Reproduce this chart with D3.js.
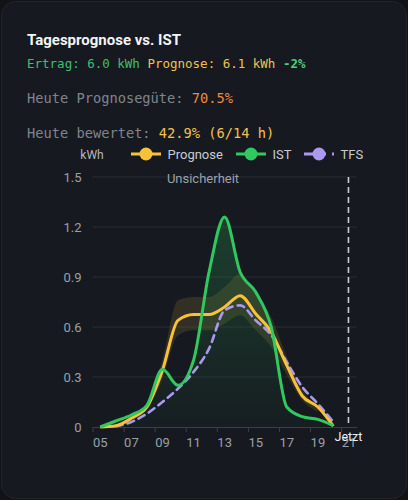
<!DOCTYPE html>
<html>
<head>
<meta charset="utf-8">
<script src="https://cdn.jsdelivr.net/npm/d3@7"></script>
<style>
  html, body { margin: 0; padding: 0; background: #111317; }
  svg { display: block; }
</style>
</head>
<body>
<div id="chart"></div>
<script>
// ---------- data ----------
const hours      = [5.5, 6.5, 7.5, 8.5, 9.5, 10.5, 11.5, 12.5, 13.5, 14.5, 15.5, 16.5, 17.5, 18.5, 19.5, 20.5];
const istValues  = [0, 0.036, 0.072, 0.13, 0.346, 0.25, 0.40, 0.93, 1.26, 0.93, 0.81, 0.60, 0.12, 0.062, 0.046, 0.008];
const progValues = [0, 0.008, 0.052, 0.12, 0.34, 0.64, 0.675, 0.675, 0.72, 0.788, 0.68, 0.57, 0.37, 0.186, 0.12, 0.005];
const tfsHours   = [6.5, 7.5, 8.5, 9.5, 10.5, 11.5, 12.5, 13.5, 14.5, 15.5, 16.5, 17.5, 18.5, 19.5, 20.5];
const tfsValues  = [0.005, 0.03, 0.08, 0.15, 0.23, 0.33, 0.47, 0.70, 0.73, 0.64, 0.55, 0.39, 0.24, 0.14, 0.03];
const bandHours  = [8.5, 9.5, 10.5, 11.5, 12.5, 13.5, 14.5, 15.5, 16.5, 17.5, 18.5, 19.5];
const bandUpper  = [0.14, 0.40, 0.76, 0.78, 0.78, 0.84, 0.92, 0.80, 0.66, 0.42, 0.22, 0.13];
const bandLower  = [0.10, 0.29, 0.55, 0.58, 0.58, 0.62, 0.67, 0.58, 0.48, 0.31, 0.16, 0.09];
const xTicks      = [5, 7, 9, 11, 13, 15, 17, 19, 21];
const xTickLabels = ["05", "07", "09", "11", "13", "15", "17", "19", "21"];
const yTicks      = [0, 0.3, 0.6, 0.9, 1.2, 1.5];
const yTickLabels = ["0", "0.3", "0.6", "0.9", "1.2", "1.5"];
const nowHour = 21.47;
const seriesNames = ["Prognose", "IST", "TFS"];

// ---------- layout ----------
const W = 408, H = 500;
const C = { prog: "#f7c23a", ist: "#2fc95f", tfs: "#ab98f0", grid: "#262b33", axis: "#3b4048", tick: "#9aa0a8" };

const svg = d3.select("#chart").append("svg").attr("width", W).attr("height", H);
const defs = svg.append("defs");

svg.append("rect").attr("x", 1.5).attr("y", 1.5).attr("width", W - 3).attr("height", H - 3)
  .attr("rx", 14).attr("fill", "#161a20").attr("stroke", "#20242b").attr("stroke-width", 1);

// header
const mono = "'DejaVu Sans Mono', 'Liberation Mono', monospace";
svg.append("text").attr("x", 27).attr("y", 45).attr("fill", "#f3f4f6")
  .attr("font-family", "Roboto, 'Noto Sans', sans-serif").attr("font-weight", 700).attr("font-size", 15)
  .text("Tagesprognose vs. IST");

const l2 = svg.append("text").attr("x", 27).attr("y", 67.5).attr("font-family", mono).attr("font-size", 12.5)
  .attr("xml:space", "preserve");
l2.append("tspan").attr("fill", "#3fbf6c").text("Ertrag: 6.0 kWh ");
l2.append("tspan").attr("fill", "#f2c14c").text("Prognose: 6.1 kWh ");
l2.append("tspan").attr("fill", "#46d07a").attr("font-weight", 700).text("-2%");

const l3 = svg.append("text").attr("x", 27).attr("y", 102.5).attr("font-family", mono).attr("font-size", 13.7)
  .attr("xml:space", "preserve");
l3.append("tspan").attr("fill", "#80858d").text("Heute Prognosegüte: ");
l3.append("tspan").attr("fill", "#ec8a3e").text("70.5%");

const l4 = svg.append("text").attr("x", 27).attr("y", 138).attr("font-family", mono).attr("font-size", 13.7)
  .attr("xml:space", "preserve");
l4.append("tspan").attr("fill", "#80858d").text("Heute bewertet: ");
l4.append("tspan").attr("fill", "#f2c14c").text("42.9% (6/14 h)");

// scales
const x = d3.scaleLinear().domain([5, 22]).range([92.5, 356.7]);
const y = d3.scaleLinear().domain([0, 1.5]).range([427, 177]);
const sans = "Roboto, 'Noto Sans', sans-serif";

// grid
svg.append("g").selectAll("line").data(yTicks.filter(d => d > 0)).join("line")
  .attr("x1", x(5)).attr("x2", x(22)).attr("y1", d => y(d)).attr("y2", d => y(d))
  .attr("stroke", C.grid).attr("stroke-width", 1);

// y axis labels
const yAxis = svg.append("g").attr("transform", `translate(${x(5)},0)`)
  .call(d3.axisLeft(y).tickValues(yTicks).tickSize(0).tickPadding(11)
    .tickFormat((d, i) => yTickLabels[i]));
yAxis.select(".domain").remove();
yAxis.selectAll("text").attr("fill", C.tick).attr("font-size", 13).attr("font-family", sans);

// x axis
const xAxis = svg.append("g").attr("transform", `translate(0,${y(0)})`)
  .call(d3.axisBottom(x).tickValues(xTicks).tickSize(5).tickPadding(6)
    .tickFormat((d, i) => xTickLabels[i]).tickSizeOuter(0));
xAxis.select(".domain").attr("stroke", C.axis);
xAxis.selectAll(".tick line").attr("stroke", C.axis);
xAxis.selectAll("text").attr("fill", C.tick).attr("font-size", 13).attr("font-family", sans)
  .attr("text-anchor", "start");

// uncertainty band
const band = bandHours.map((h, i) => ({ h, lo: bandLower[i], hi: bandUpper[i] }));
svg.append("path").datum(band)
  .attr("d", d3.area().curve(d3.curveMonotoneX).x(d => x(d.h)).y0(d => y(d.lo)).y1(d => y(d.hi)))
  .attr("fill", "rgba(240,190,70,0.13)");

// IST area gradient
const grad = defs.append("linearGradient").attr("id", "istGrad").attr("gradientUnits", "userSpaceOnUse")
  .attr("x1", 0).attr("x2", 0).attr("y1", y(1.26)).attr("y2", y(0));
grad.append("stop").attr("offset", 0).attr("stop-color", C.ist).attr("stop-opacity", 0.22);
grad.append("stop").attr("offset", 1).attr("stop-color", C.ist).attr("stop-opacity", 0.02);

const ist = hours.map((h, i) => ({ h, v: istValues[i] }));
const prog = hours.map((h, i) => ({ h, v: progValues[i] }));
const tfs = tfsHours.map((h, i) => ({ h, v: tfsValues[i] }));

svg.append("path").datum(ist)
  .attr("d", d3.area().curve(d3.curveMonotoneX).x(d => x(d.h)).y0(y(0)).y1(d => y(d.v)))
  .attr("fill", "url(#istGrad)");

const line = d3.line().curve(d3.curveMonotoneX).x(d => x(d.h)).y(d => y(d.v));

svg.append("path").datum(tfs).attr("d", line).attr("fill", "none")
  .attr("stroke", C.tfs).attr("stroke-width", 2.6).attr("stroke-dasharray", "7,5").attr("stroke-linecap", "round");
svg.append("path").datum(prog).attr("d", line).attr("fill", "none")
  .attr("stroke", C.prog).attr("stroke-width", 3).attr("stroke-linejoin", "round");
svg.append("path").datum(ist).attr("d", line).attr("fill", "none")
  .attr("stroke", C.ist).attr("stroke-width", 3).attr("stroke-linejoin", "round");

// now line
svg.append("line").attr("x1", x(nowHour)).attr("x2", x(nowHour)).attr("y1", y(1.5)).attr("y2", y(0))
  .attr("stroke", "#c9ccd1").attr("stroke-width", 1.6).attr("stroke-dasharray", "6,4");
svg.append("text").attr("x", x(nowHour)).attr("y", 441).attr("text-anchor", "middle")
  .attr("fill", "#f0f0f0").attr("font-size", 12.5).attr("font-family", sans).text("Jetzt");

// labels
svg.append("text").attr("x", 203).attr("y", 182.5).attr("text-anchor", "middle")
  .attr("fill", "#9ca1a9").attr("font-size", 13).attr("font-family", sans).text("Unsicherheit");
svg.append("text").attr("x", 92).attr("y", 158.5).attr("text-anchor", "middle")
  .attr("fill", "#b3b8bf").attr("font-size", 12).attr("font-family", sans).text("kWh");

// legend
const legend = [
  { name: seriesNames[0], color: C.prog, x0: 131, dash: null },
  { name: seriesNames[1], color: C.ist, x0: 236, dash: null },
  { name: seriesNames[2], color: C.tfs, x0: 304, dash: "22,6,2,6" }
];
const lg = svg.append("g").selectAll("g").data(legend).join("g");
lg.append("line").attr("x1", d => d.x0).attr("x2", d => d.x0 + 30).attr("y1", 154).attr("y2", 154)
  .attr("stroke", d => d.color).attr("stroke-width", 3).attr("stroke-dasharray", d => d.dash);
lg.append("circle").attr("cx", d => d.x0 + 15).attr("cy", 154).attr("r", 6.5).attr("fill", d => d.color);
lg.append("text").attr("x", d => d.x0 + 36.5).attr("y", 158.6).attr("fill", "#c8ccd2")
  .attr("font-size", 13).attr("font-family", sans).text(d => d.name);
</script>
</body>
</html>
